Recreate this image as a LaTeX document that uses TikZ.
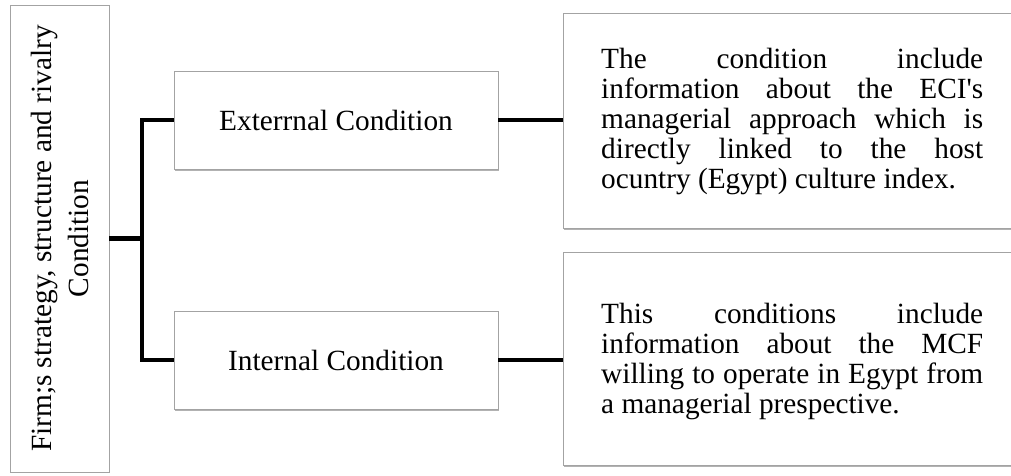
\documentclass[tikz,border=0pt]{standalone}
\usepackage{fontspec}
\setmainfont{Liberation Serif}
\usetikzlibrary{shadows}
\definecolor{boxgray}{HTML}{A3A3A3}
\newcommand\fullline[1]{\hbox to 382pt{#1}}
\hbadness=10000
\begin{document}
\begin{tikzpicture}[x=1pt,y=-1pt,
  box/.style={draw=boxgray, line width=0.8pt, fill=white, rectangle, inner sep=0pt},
  shade box/.style={box, drop shadow={shadow xshift=0.6pt, shadow yshift=-2pt, opacity=0.5, fill=black!60}},
  link/.style={line width=4.6pt, line join=miter},
  body/.style={font=\fontsize{29.3}{30}\selectfont, inner sep=0pt, align=left}]
\useasboundingbox (0,0) rectangle (1011,475);
\clip (0,0) rectangle (1011,475);

% root box with vertical title
\node[box, rotate=90, minimum width=467pt, minimum height=99pt, align=center,
      font=\fontsize{29.3}{37}\selectfont] (firm) at (59.5,238.5)
  {Firm;s strategy, structure and rivalry\\Condition};

% the two condition boxes
\node[shade box, minimum width=324pt, minimum height=98pt,
      font=\fontsize{29.3}{30}\selectfont] (ext) at (336,120) {Exterrnal Condition};
\node[shade box, minimum width=324pt, minimum height=98pt,
      font=\fontsize{29.3}{30}\selectfont] (int) at (336,360) {Internal Condition};

% description boxes (running off the right edge)
\node[shade box, anchor=west, minimum width=490pt, minimum height=215pt] (rt) at (563,120.5) {};
\node[shade box, anchor=west, minimum width=490pt, minimum height=213pt] (rb) at (563,358.5) {};

\node[body, anchor=west] (rttext) at (601,121)
  {\fullline{The condition include}\\
   \fullline{information about the ECI\textquotesingle s}\\
   \fullline{managerial approach which is}\\
   \fullline{directly linked to the host}\\
   ocuntry (Egypt) culture index.};
\node[body, anchor=west] (rbtext) at (601,361)
  {\fullline{This conditions include}\\
   \fullline{information about the MCF}\\
   \fullline{willing to operate in Egypt from}\\
   a managerial prespective.};

% connectors
\coordinate (j) at (142,238.5);
\draw[link] (firm.south) -- (j);
\draw[link] (ext.west) -| (j) |- (int.west);
\draw[link] (ext.east) -- (ext.east -| rt.west);
\draw[link] (int.east) -- (int.east -| rb.west);
\end{tikzpicture}
\end{document}
